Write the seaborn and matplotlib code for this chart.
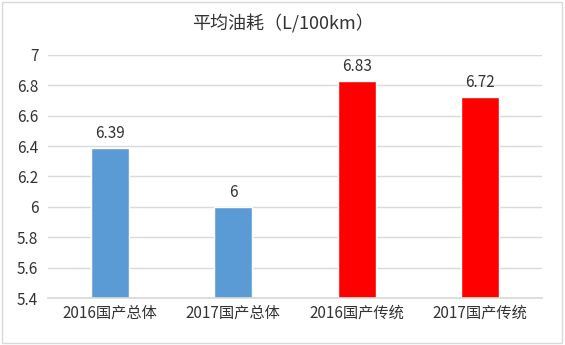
import matplotlib
matplotlib.use("Agg")
import matplotlib.pyplot as plt
import seaborn as sns
import pandas as pd
from matplotlib.patches import Rectangle

categories = ["2016国产总体", "2017国产总体", "2016国产传统", "2017国产传统"]
values = [6.39, 6.00, 6.83, 6.72]
labels = ["6.39", "6", "6.83", "6.72"]
colors = ["#5B9BD5", "#5B9BD5", "#FF0000", "#FF0000"]
yticks = [5.4, 5.6, 5.8, 6.0, 6.2, 6.4, 6.6, 6.8, 7.0]
yticklabels = ["5.4", "5.6", "5.8", "6", "6.2", "6.4", "6.6", "6.8", "7"]
title = "平均油耗（L/100km）"

sns.set_theme(style="white")
plt.rcParams['font.family'] = ['Noto Sans CJK SC', 'DejaVu Sans']

df = pd.DataFrame({"cat": categories, "val": values})

fig = plt.figure(figsize=(5.65, 3.45), dpi=100)
ax = fig.add_axes([0.085, 0.136, 0.874, 0.705])
sns.barplot(data=df, x="cat", y="val", hue="cat", palette=colors, legend=False,
            width=0.31, ax=ax, saturation=1)
ax.set_ylim(5.4, 7.0)
ax.set_yticks(yticks)
ax.set_yticklabels(yticklabels, fontsize=11, color="#333333")
ax.tick_params(axis="x", labelsize=11, colors="#333333", length=0, pad=5)
ax.tick_params(axis="y", length=0, pad=7)
ax.set_xlabel("")
ax.set_ylabel("")
ax.grid(axis="y", color="#D9D9D9", linewidth=1)
ax.set_axisbelow(True)
for s in ["top", "right", "left"]:
    ax.spines[s].set_visible(False)
ax.spines["bottom"].set_color("#D9D9D9")

for i, (v, l) in enumerate(zip(values, labels)):
    ax.text(i, v + 0.04, l, ha="center", va="bottom", fontsize=11, color="#333333")

fig.text(0.5, 0.93, title, ha="center", va="center", fontsize=13, color="#333333")
fig.patches.append(Rectangle((0.004, 0.006), 0.99, 0.988, transform=fig.transFigure,
                             fill=False, edgecolor="#D9D9D9", linewidth=1))

fig.savefig("out.png", dpi=100)
